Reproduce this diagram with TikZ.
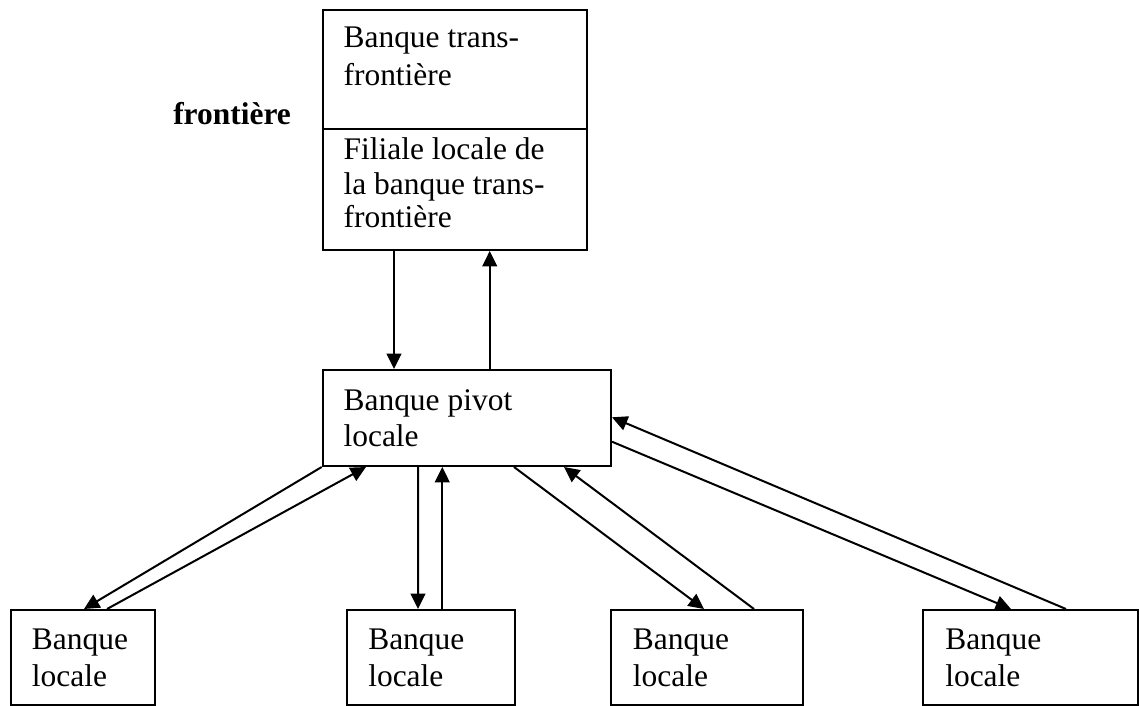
\documentclass[tikz,border=0pt]{standalone}
\usepackage{fontspec}
\setmainfont{Liberation Serif}
\usetikzlibrary{arrows.meta,calc,fit}
\begin{document}
\begin{tikzpicture}[x=0.75pt,y=-0.75pt,
  box/.style={draw,line width=1.5pt,inner sep=0pt},
  txt/.style={anchor=base west,inner sep=0pt,font=\fontsize{23.6}{27.7}\selectfont},
  arr/.style={line width=1.5pt,-{Triangle[length=11.5pt,width=11pt]}}]
\useasboundingbox (0,0) rectangle (1139,706);
% boxes
\node[box,fit={(322.7,10)(587,250)}] (top) {};
\draw[line width=1.5pt] ($(top.north west)+(0,120)$) -- ($(top.north east)+(0,120)$);
\node[box,fit={(322.7,370)(611,466)}] (pivot) {};
\node[box,fit={(10.7,610)(155,705)}] (b1) {};
\node[box,fit={(347,610)(515,705)}] (b2) {};
\node[box,fit={(611,610)(803,705)}] (b3) {};
\node[box,fit={(923,610)(1138,705)}] (b4) {};
% texts
\node[txt] (t1) at (343.3,47.7) {Banque trans-};
\node[txt] (t2) at (343.3,86) {frontière};
\node[txt] (t3) at (343.3,159.3) {Filiale locale de};
\node[txt] (t4) at (343.3,195) {la banque trans-};
\node[txt] (t5) at (343.3,227.3) {frontière};
\node[txt,font=\fontsize{23.6}{27.7}\selectfont\bfseries] (fr) at (173,125) {frontière};
\node[txt] (p1) at (343.3,410) {Banque pivot};
\node[txt] (p2) at (343.3,446.7) {locale};
\foreach \xx/\nm in {31.7/a,368/b,632.7/c,945/d}{
  \node[txt] (l\nm1) at (\xx,649) {Banque};
  \node[txt] (l\nm2) at (\xx,686.7) {locale};
}
% connectors
\draw[arr] ($(top.south west)+(72.3,0)$) -- ($(pivot.north west)+(72.3,0)$);
\draw[arr] ($(pivot.north west)+(168,0)$) -- ($(top.south west)+(168,0)$);
\draw[arr] (pivot.south west) -- ($(b1.north west)+(74.3,0)$);
\draw[arr] ($(b1.north west)+(97.3,0)$) -- ($(pivot.south west)+(44.3,0)$);
\draw[arr] ($(pivot.south west)+(96.3,0)$) -- ($(b2.north west)+(72,0)$);
\draw[arr] ($(b2.north west)+(96.3,0)$) -- ($(pivot.south west)+(120.6,0)$);
\draw[arr] ($(pivot.south west)+(192.3,0)$) -- ($(b3.north west)+(94,0)$);
\draw[arr] ($(b3.north west)+(144,0)$) -- ($(pivot.south west)+(242.3,0)$);
\draw[arr] ($(pivot.north east)+(0,72.7)$) -- ($(b4.north west)+(89,0)$);
\draw[arr] ($(b4.north west)+(144,0)$) -- ($(pivot.north east)+(0,48.3)$);
\end{tikzpicture}
\end{document}
